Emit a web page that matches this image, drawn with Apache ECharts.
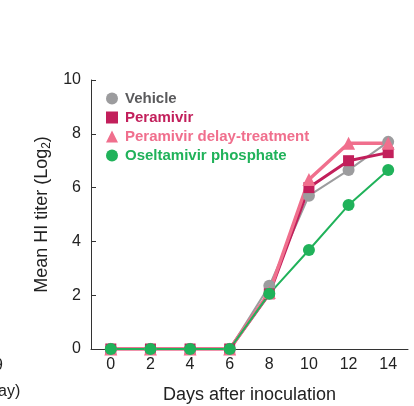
<!DOCTYPE html>
<html>
<head>
<meta charset="utf-8">
<script src="https://cdn.jsdelivr.net/npm/echarts@6/dist/echarts.min.js"></script>
<style>
  html, body { margin: 0; padding: 0; background: #fff; }
  #main { width: 414px; height: 406px; }
</style>
</head>
<body>
<div id="main"></div>
<script>
  // days after inoculation
  const days = ['0', '2', '4', '6', '8', '10', '12', '14'];
  // mean HI titer (log2)
  const vehicle = [0, 0, 0, 0, 2.35, 5.7, 6.65, 7.7];
  const peramivir = [0, 0, 0, 0, 2.05, 6.0, 7.0, 7.3];
  const peramivirDelay = [0, 0, 0, 0, 2.1, 6.3, 7.65, 7.65];
  const oseltamivir = [0, 0, 0, 0, 2.05, 3.68, 5.35, 6.65];

  const font = 'Liberation Sans, Arial, sans-serif';
  const myChart = echarts.init(document.getElementById('main'));

  function line(name, data, color, symbol, size, width) {
    return {
      name: name,
      type: 'line',
      data: data,
      symbol: symbol,
      symbolSize: size,
      showAllSymbol: true,
      lineStyle: { color: color, width: width },
      itemStyle: { color: color },
      emphasis: { disabled: true },
    };
  }

  myChart.setOption({
    animation: false,
    textStyle: { fontFamily: font },
    grid: { left: 91, right: 6, top: 80, bottom: 57, outerBoundsMode: 'none' },
    legend: {
      orient: 'vertical',
      left: 101,
      top: 86,
      itemWidth: 12,
      itemHeight: 12,
      itemGap: 4,
      textStyle: { fontFamily: font, fontSize: 15, lineHeight: 15, fontWeight: 'bold', padding: [0, 0, 0, 2] },
      data: [
        { name: 'Vehicle', icon: 'circle', textStyle: { color: '#5a5a5c' } },
        { name: 'Peramivir', icon: 'rect', textStyle: { color: '#c21f5b' } },
        { name: 'Peramivir delay-treatment', icon: 'triangle', textStyle: { color: '#f06f8d' } },
        { name: 'Oseltamivir phosphate', icon: 'circle', textStyle: { color: '#20b25a' } },
      ],
    },
    xAxis: {
      type: 'category',
      data: days,
      boundaryGap: true,
      name: 'Days after inoculation',
      nameLocation: 'middle',
      nameGap: 37,
      nameTextStyle: { fontFamily: font, fontSize: 18, color: '#222' },
      axisLine: { lineStyle: { color: '#333', width: 1 } },
      axisTick: { inside: true, length: 5, lineStyle: { color: '#333' } },
      axisLabel: { fontFamily: font, fontSize: 16, color: '#222', margin: 8 },
      splitLine: { show: false },
    },
    yAxis: {
      type: 'value',
      min: 0,
      max: 10,
      interval: 2,
      name: 'Mean HI titer (Log{sub|2})',
      nameLocation: 'middle',
      nameGap: 38,
      nameTextStyle: {
        fontFamily: font, fontSize: 18, color: '#222',
        rich: { sub: { fontFamily: font, fontSize: 12, color: '#222', padding: [9, 0, 0, 0] } },
      },
      axisLine: { show: true, lineStyle: { color: '#333', width: 1 } },
      axisTick: { show: true, inside: true, length: 5, lineStyle: { color: '#333' } },
      axisLabel: { fontFamily: font, fontSize: 16, color: '#222', margin: 10 },
      splitLine: { show: false },
    },
    graphic: [
      { type: 'text', left: -6, top: 358, style: { text: '9', fontFamily: font, fontSize: 16, fill: '#222' } },
      { type: 'text', left: -2, top: 384, style: { text: 'ay)', fontFamily: font, fontSize: 16, fill: '#222' } },
    ],
    series: [
      line('Vehicle', vehicle, '#9c9c9e', 'circle', 12, 2),
      line('Peramivir', peramivir, '#c21f5b', 'rect', 11, 3),
      line('Peramivir delay-treatment', peramivirDelay, '#f06f8d', 'triangle', 13, 3.5),
      line('Oseltamivir phosphate', oseltamivir, '#20b25a', 'circle', 12, 2),
    ],
  });
  window.onresize = myChart.resize;
</script>
</body>
</html>
